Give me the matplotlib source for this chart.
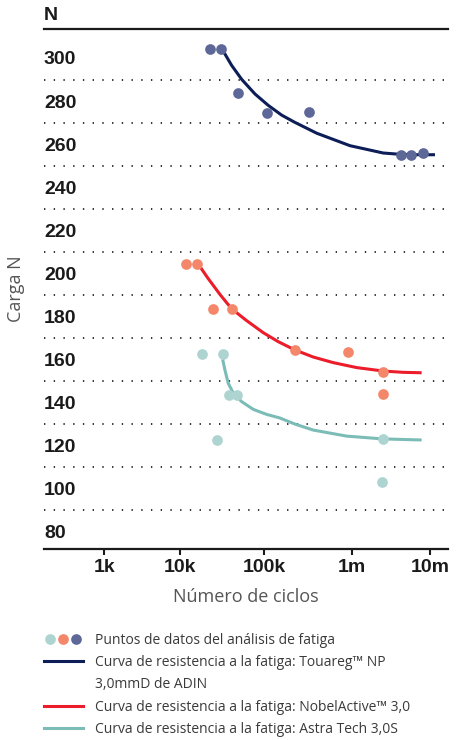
import numpy as np
import matplotlib
matplotlib.use("Agg")
import matplotlib.pyplot as plt
from matplotlib.lines import Line2D
from matplotlib.legend_handler import HandlerTuple
from matplotlib.ticker import FixedLocator, NullLocator

# ---- data ----
touareg_x = [22800, 30800, 49000, 107000, 326000, 4230000, 5670000, 8100000]
touareg_y = [304.3, 304.3, 283.9, 274.5, 275.1, 255.0, 255.0, 255.8]
touareg_curve_x = [31300, 41200, 54300, 78200, 112000, 159000, 221000, 399000, 957000,
                   2530000, 4140000, 6760000, 11600000]
touareg_curve_y = [304.5, 296.6, 290.1, 283.3, 278.0, 273.5, 270.3, 265.1, 259.3,
                   255.9, 255.3, 255.1, 255.1]

nobel_x = [11800, 16100, 25000, 41600, 225000, 915000, 2480000, 2480000]
nobel_y = [204.2, 204.2, 183.6, 183.6, 164.5, 163.7, 154.1, 144.0]
nobel_curve_x = [16800, 21700, 29900, 41200, 62200, 98100, 146000, 225000, 365000,
                 617000, 1160000, 2530000, 4560000, 7830000]
nobel_curve_y = [203.9, 197.6, 190.3, 183.6, 178.1, 172.5, 168.3, 164.5, 161.2,
                 158.6, 156.3, 154.7, 154.1, 153.9]

astra_x = [18100, 32700, 38600, 48100, 27400, 2490000, 2420000]
astra_y = [162.5, 162.5, 143.4, 143.4, 122.7, 123.2, 103.3]
astra_curve_x = [32200, 34300, 37600, 43200, 54300, 74700, 107000, 152000, 225000,
                 365000, 877000, 2490000, 7830000]
astra_curve_y = [160.2, 155.2, 149.0, 144.4, 140.5, 136.9, 134.6, 132.9, 130.1,
                 127.3, 124.5, 123.2, 122.7]

y_ticks = [300, 280, 260, 240, 220, 200, 180, 160, 140, 120, 100, 80]
grid_y = [290, 270, 250, 230, 210, 190, 170, 150, 130, 110, 90]
x_ticks = [1e3, 1e4, 1e5, 1e6, 1e7]
x_labels = ["1k", "10k", "100k", "1m", "10m"]

# the printed log axis has uneven decades, so use a piecewise log scale
knot_log = [0, 3, 4, 5, 6, 7, 10]
knot_pos = [-122.8, 104.3, 180.0, 264.0, 351.7, 430.0, 664.9]

def fwd(x):
    x = np.asarray(x, dtype=float)
    return np.interp(np.log10(np.maximum(x, 1e-10)), knot_log, knot_pos)

def inv(p):
    return 10 ** np.interp(np.asarray(p, dtype=float), knot_pos, knot_log)

BLUE_DOT, BLUE_LINE = "#5d6898", "#0c1d57"
RED_DOT, RED_LINE = "#f4866a", "#ec1c2a"
TEAL_DOT, TEAL_LINE = "#aed4d1", "#7bbcb7"

fig = plt.figure(figsize=(4.68, 7.4), dpi=100)
ax = fig.add_axes([44 / 468, 1 - 549 / 740, 404 / 468, 520 / 740])
ax.set_xscale("function", functions=(fwd, inv))
ax.set_xlim(160, 1.7e7)
ax.set_ylim(72.1, 313.46)

for g in grid_y:
    ax.axhline(g, color="#333333", lw=1.4, ls=(0, (0.7, 4.3)), zorder=1)

curve_kw = dict(lw=2.2, zorder=3, solid_capstyle="butt", solid_joinstyle="round")
ax.plot(touareg_curve_x, touareg_curve_y, color=BLUE_LINE, **curve_kw)
ax.plot(nobel_curve_x, nobel_curve_y, color=RED_LINE, **curve_kw)
ax.plot(astra_curve_x, astra_curve_y, color=TEAL_LINE, **curve_kw)

ms = 7.7
ax.plot(touareg_x, touareg_y, "o", color=BLUE_DOT, ms=ms, mec="none", zorder=4)
ax.plot(nobel_x, nobel_y, "o", color=RED_DOT, ms=ms, mec="none", zorder=4)
ax.plot(astra_x, astra_y, "o", color=TEAL_DOT, ms=ms, mec="none", zorder=4)

for s in ["left", "right"]:
    ax.spines[s].set_visible(False)
for s in ["top", "bottom"]:
    ax.spines[s].set_linewidth(1.6)
    ax.spines[s].set_color("#1a1a1a")

ax.xaxis.set_major_locator(FixedLocator(x_ticks))
ax.xaxis.set_minor_locator(NullLocator())
ax.set_xticklabels(x_labels, fontsize=14, fontweight="bold", family="Liberation Sans", color="#1a1a1a")
ax.tick_params(axis="x", direction="out", length=4.5, width=1.5, color="#1a1a1a", pad=3)

ax.set_yticks(y_ticks)
ax.set_yticklabels([str(v) for v in y_ticks], fontsize=14, fontweight="bold", family="Liberation Sans", color="#1a1a1a")
ax.tick_params(axis="y", length=0, pad=0)
for lab in ax.get_yticklabels():
    lab.set_horizontalalignment("left")

fig.text(44 / 468, 1 - 16 / 740, "N", fontsize=14, fontweight="bold", family="Liberation Sans",
         color="#1a1a1a", ha="left", va="center")
fig.text(16 / 468, 1 - 289 / 740, "Carga N", fontsize=13, family="Open Sans", color="#555555",
         rotation=90, ha="center", va="center")
fig.text(246 / 468, 1 - 597 / 740, "Número de ciclos", fontsize=13, family="Open Sans", color="#555555",
         ha="center", va="center")

# legend
dots = tuple(Line2D([], [], ls="none", marker="o", ms=ms, color=c, mec="none")
             for c in (TEAL_DOT, RED_DOT, BLUE_DOT))
handles = [
    dots,
    Line2D([], [], color=BLUE_LINE, lw=2.2),
    Line2D([], [], color="none"),
    Line2D([], [], color=RED_LINE, lw=2.2),
    Line2D([], [], color=TEAL_LINE, lw=2.2),
]
labels = [
    "Puntos de datos del análisis de fatiga",
    "Curva de resistencia a la fatiga: Touareg™ NP",
    "3,0mmD de ADIN",
    "Curva de resistencia a la fatiga: NobelActive™ 3,0",
    "Curva de resistencia a la fatiga: Astra Tech 3,0S",
]
leg = fig.legend(handles, labels, loc="upper left", bbox_to_anchor=(44 / 468, 1 - 633 / 740),
                 frameon=False, borderpad=0, borderaxespad=0, handlelength=2.8, handletextpad=0.85,
                 labelspacing=0.52, numpoints=1,
                 handler_map={tuple: HandlerTuple(ndivide=None, pad=0)},
                 prop={"family": "Open Sans", "size": 10})
for t in leg.get_texts():
    t.set_color("#3a3a3a")

fig.savefig("out.png", dpi=100)
